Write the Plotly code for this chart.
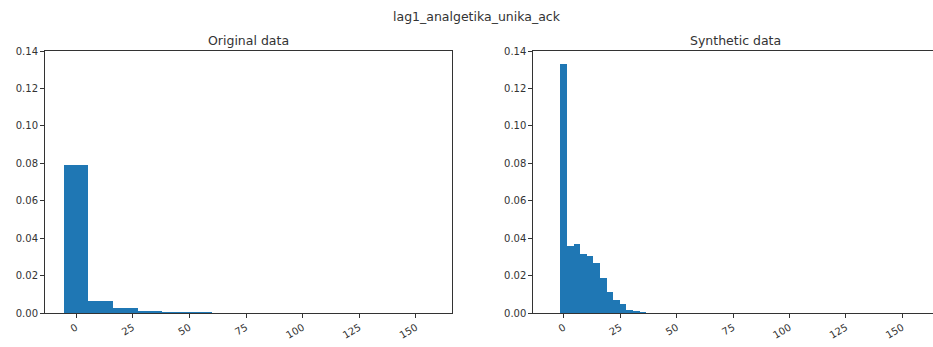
import plotly.graph_objects as go

# Histogram bins (left edges + last right edge) and densities
orig_edges = [-5.5, 5.4, 16.3, 27.2, 38.0, 48.9, 59.8, 70.7, 81.6, 92.5,
              103.4, 114.3, 125.1, 136.0, 146.9, 157.8]
orig_density = [0.0791, 0.0066, 0.0025, 0.0012, 0.0005, 0.0004, 0.0,
                0.0, 0.0, 0.0, 0.0, 0.0, 0.0, 0.0, 0.0]

synth_edges = [-1.5, 1.43, 4.36, 7.29, 10.22, 13.15, 16.08, 19.01, 21.94,
               24.87, 27.8, 30.73, 33.66, 36.59]
synth_density = [0.1332, 0.0360, 0.0370, 0.0317, 0.0306, 0.0269, 0.0185,
                 0.0110, 0.0071, 0.0046, 0.0014, 0.0011, 0.0005]

y_ticks = [0.00, 0.02, 0.04, 0.06, 0.08, 0.10, 0.12, 0.14]
x_ticks = [0, 25, 50, 75, 100, 125, 150]

fig_title = "lag1_analgetika_unika_ack"
panel_titles = ["Original data", "Synthetic data"]

BAR = "#1f77b4"
INK = "#333333"
FONT = "DejaVu Sans"

W, H = 933, 347
ML, MR, MT, MB = 45, 0, 51, 34
pw, ph = W - ML - MR, H - MT - MB


def px_x(p):
    return (p - ML) / pw


def px_y(p):
    return 1 + (MT - p) / ph


def bars(edges, dens, xa, ya):
    lefts = edges[:-1]
    widths = [edges[i + 1] - edges[i] for i in range(len(dens))]
    return go.Bar(x=lefts, y=dens, width=widths, offset=0,
                  marker=dict(color=BAR, line=dict(width=0)),
                  xaxis=xa, yaxis=ya, showlegend=False, hoverinfo="y")


fig = go.Figure()
fig.add_trace(bars(orig_edges, orig_density, "x", "y"))
fig.add_trace(bars(synth_edges, synth_density, "x2", "y2"))

axis_common = dict(showgrid=False, zeroline=False, showline=True,
                   linecolor=INK, linewidth=1, ticks="outside", ticklen=4,
                   tickcolor=INK, tickwidth=1,
                   tickfont=dict(family=FONT, size=10, color=INK))

xcommon = dict(axis_common, tickvals=x_ticks, ticktext=[str(v) for v in x_ticks],
               tickangle=-30)
ycommon = dict(axis_common, range=[0, 0.14], tickvals=y_ticks,
               ticktext=[f"{v:.2f}" for v in y_ticks])

fig.update_layout(
    width=W, height=H,
    margin=dict(l=ML, r=MR, t=MT, b=MB),
    paper_bgcolor="white", plot_bgcolor="white",
    bargap=0,
    xaxis=dict(xcommon, domain=[0, px_x(452)], range=[-13.7, 165.9],
               anchor="y", mirror=True),
    yaxis=dict(ycommon, domain=[0, 1], anchor="x", mirror=True),
    xaxis2=dict(xcommon, domain=[px_x(533.3), 1], range=[-13.6, 163.6],
                anchor="y2", mirror=True),
    yaxis2=dict(ycommon, domain=[0, 1], anchor="x2", mirror=False),
    annotations=[
        dict(text=fig_title, xref="paper", yref="paper", x=px_x(477), y=px_y(17),
             xanchor="center", yanchor="middle", showarrow=False,
             font=dict(family=FONT, size=12.5, color=INK)),
        dict(text=panel_titles[0], xref="paper", yref="paper", x=px_x(248.5),
             y=px_y(40), xanchor="center", yanchor="middle", showarrow=False,
             font=dict(family=FONT, size=12.5, color=INK)),
        dict(text=panel_titles[1], xref="paper", yref="paper", x=px_x(735.7),
             y=px_y(40), xanchor="center", yanchor="middle", showarrow=False,
             font=dict(family=FONT, size=12.5, color=INK)),
    ],
)

fig.write_html("out.html")
